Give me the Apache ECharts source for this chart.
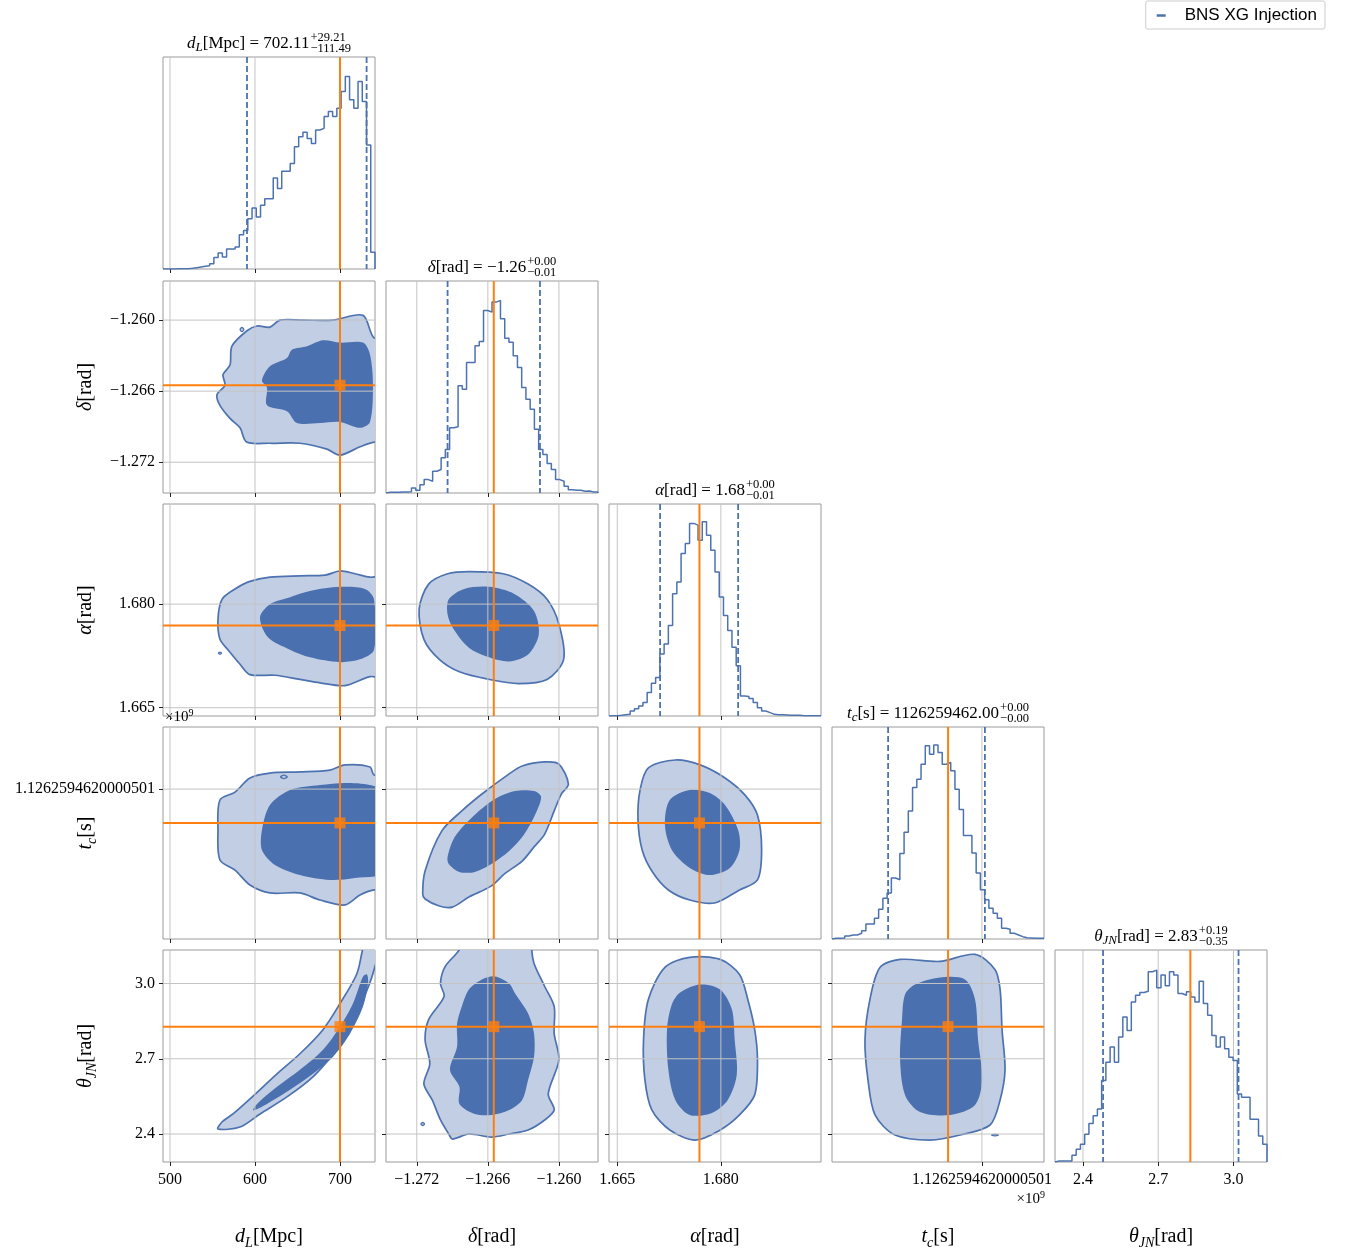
<!DOCTYPE html>
<html><head><meta charset="utf-8">
<script src="https://cdn.jsdelivr.net/npm/echarts@6/dist/echarts.min.js"></script>
<style>html,body{margin:0;padding:0;background:#fff}#c{width:1348px;height:1255px}</style>
</head><body><div id="c"></div>
<script>
// ---------------- DATA ----------------
const params = ['dL', 'delta', 'alpha', 'tc', 'theta'];
// axis ranges (tc in microseconds relative to 1126259462 s)
const rangeDL = [491.8, 741.2];
const rangeDelta = [-1.2746, -1.2567];
const rangeAlpha = [1.6638, 1.6945];
const rangeTc = [-20, 79];
const rangeTheta = [2.2885, 3.1335];

const ticksDL = [500, 600, 700];
const ticksDelta = [-1.272, -1.266, -1.260];
const ticksAlpha = [1.665, 1.680];
const ticksTc = [50];
const ticksTheta = [2.4, 2.7, 3.0];

const tickLabelsDL = ['500', '600', '700'];
const tickLabelsDelta = ['\u22121.272', '\u22121.266', '\u22121.260'];
const tickLabelsAlpha = ['1.665', '1.680'];
const tickLabelsTc = ['1.1262594620000501'];
const tickLabelsTheta = ['2.4', '2.7', '3.0'];

const injection = { dL: 700, delta: -1.2655, alpha: 1.6769, tc: 34.2, theta: 2.828 };
const quantDL = [590.62, 731.32];
const quantDelta = [-1.2694, -1.2616];
const quantAlpha = [1.6712, 1.6825];
const quantTc = [6.2, 51.4];
const quantTheta = [2.48, 3.02];

// histogram bin heights (50 bins spanning each axis range)
const histDL = [0,0,0,1,1,1,2,4,6,8,10,16,34,48,36,60,60,66,102,115,150,182,155,190,210,210,272,240,292,292,315,365,395,408,390,375,415,420,455,470,455,480,530,575,505,480,560,500,370,50];
const histDelta = [2,2,2,3,3,4,15,8,25,40,35,65,70,105,130,195,198,320,310,390,390,440,452,545,540,570,575,520,462,450,410,375,315,280,250,190,130,115,88,70,40,35,20,10,8,8,5,6,3,3];
const histAlpha = [1,1,2,4,5,15,22,30,40,70,98,115,185,215,270,365,400,485,515,575,570,525,580,540,495,430,355,300,255,205,150,60,58,52,40,25,15,10,5,4,4,3,2,2,2,1,1,1,1,1];
const histTc = [2,2,3,9,12,12,17,25,45,45,62,89,122,137,182,177,255,319,382,452,477,522,577,552,579,557,522,527,502,447,387,309,309,257,197,147,117,92,77,62,32,29,17,12,7,4,3,2,2,2];
const histTheta = [3,3,3,3,20,38,53,83,115,138,158,243,298,343,298,373,433,393,478,498,506,510,568,573,520,558,526,568,558,503,498,508,493,478,540,473,438,378,343,373,338,313,303,203,193,193,128,128,78,53];
const histMax = 633;

// contour polygons (outer = 2-sigma, inner = 1-sigma), data units
const cDLDeltaOuter = [[555.3,-1.2663],[558.8,-1.2672],[570.6,-1.2683],[582.4,-1.2691],[590.2,-1.2703],[617.6,-1.2704],[652.9,-1.2704],[684.7,-1.2709],[700,-1.2714],[723.5,-1.2707],[740,-1.2703],[760,-1.2703],[760,-1.2615],[740,-1.2615],[727,-1.2596],[691.8,-1.2600],[656.5,-1.2600],[629.4,-1.2600],[617.6,-1.2606],[602.4,-1.2605],[590.6,-1.2609],[572.9,-1.2622],[570.6,-1.2638],[562.4,-1.2646],[564.7,-1.2655]];
const cDLDeltaInner = [[608.2,-1.2651],[617.6,-1.2639],[637.6,-1.2632],[643.5,-1.2625],[661.2,-1.2622],[680,-1.2617],[700,-1.2619],[727,-1.2619],[735.3,-1.2629],[738.8,-1.2655],[735.3,-1.2686],[723.5,-1.2691],[700,-1.2686],[676.5,-1.2687],[649.4,-1.2687],[637.6,-1.2677],[614.1,-1.2672],[614.1,-1.2657]];
const cDLAlphaOuter = [[556.5,1.6778],[561.2,1.6807],[576.5,1.6822],[594.1,1.6833],[617.6,1.6839],[652.9,1.6841],[682.4,1.6842],[700,1.6848],[717.6,1.6844],[735.3,1.6839],[760,1.6839],[760,1.6695],[735.3,1.6695],[705.9,1.6682],[676.5,1.6686],[652.9,1.6691],[623.5,1.6697],[594.1,1.6698],[582.4,1.6713],[568.2,1.6734],[558.8,1.6749]];
const cDLAlphaInner = [[605.9,1.6781],[617.6,1.6800],[641.2,1.6810],[664.7,1.6819],[700,1.6825],[729.4,1.6822],[740,1.6807],[740,1.6734],[723.5,1.6720],[700,1.6716],[664.7,1.6723],[641.2,1.6734],[615.3,1.6752]];
const cDeltaAlphaOuter = [[-1.2718,1.6793],[-1.2710,1.6829],[-1.2694,1.6844],[-1.2676,1.6847],[-1.2647,1.6844],[-1.2626,1.6829],[-1.2610,1.6807],[-1.2600,1.6771],[-1.2596,1.6720],[-1.2610,1.6691],[-1.2634,1.6685],[-1.2659,1.6691],[-1.2684,1.6702],[-1.2701,1.6720],[-1.2714,1.6749]];
const cDeltaAlphaInner = [[-1.2694,1.6785],[-1.2693,1.6807],[-1.2680,1.6822],[-1.2659,1.6825],[-1.2638,1.6815],[-1.2621,1.6790],[-1.2617,1.6756],[-1.2626,1.6727],[-1.2642,1.6717],[-1.2659,1.6723],[-1.2676,1.6737],[-1.2689,1.6764]];
const cDLTcOuter = [[558.8,44.9],[576.5,48.6],[594.1,55.2],[617.6,57.5],[652.9,58.0],[688.2,58.9],[705.9,61.3],[735.3,60.3],[740,56.6],[760,56.6],[760,2.9],[740,2.9],[723.5,0.5],[705.9,-4.1],[676.5,-1.8],[652.9,1.5],[617.6,1.5],[594.1,5.2],[576.5,12.2],[558.8,16.9],[556.5,30.9]];
const cDLTcInner = [[608.2,30.9],[617.6,42.6],[641.2,49.6],[676.5,51.9],[705.9,52.9],[735.3,51.9],[760,47.2],[760,12.2],[717.6,8.5],[688.2,7.6],[652.9,9.9],[623.5,14.6],[608.2,21.6]];
const cDeltaTcOuter = [[-1.2715,1.0],[-1.2713,11.8],[-1.2699,30.4],[-1.2682,39.8],[-1.2665,47.7],[-1.2642,57.1],[-1.2631,60.8],[-1.2612,62.7],[-1.2600,61.7],[-1.2592,52.4],[-1.2598,47.7],[-1.2604,39.8],[-1.2612,29.0],[-1.2621,23.0],[-1.2631,16.4],[-1.2646,10.4],[-1.2657,4.8],[-1.2676,-0.4],[-1.2690,-5.1],[-1.2701,-4.6],[-1.2713,-1.3]];
const cDeltaTcInner = [[-1.2693,15.0],[-1.2694,18.3],[-1.2688,27.6],[-1.2673,37.0],[-1.2654,45.4],[-1.2637,49.1],[-1.2621,49.1],[-1.2615,46.3],[-1.2621,37.0],[-1.2631,27.6],[-1.2642,21.1],[-1.2657,15.0],[-1.2671,11.3],[-1.2684,11.3]];
const cAlphaTcOuter = [[1.6695,59.9],[1.6734,63.6],[1.6770,61.3],[1.6806,55.2],[1.6835,47.2],[1.6853,37.9],[1.6859,21.6],[1.6853,7.6],[1.6827,2.9],[1.6791,-3.2],[1.6755,-1.8],[1.6724,2.9],[1.6701,11.3],[1.6686,21.6],[1.6680,35.6],[1.6683,49.6]];
const cAlphaTcInner = [[1.6726,44.9],[1.6755,49.6],[1.6784,48.2],[1.6806,42.6],[1.6825,30.9],[1.6827,21.6],[1.6813,13.2],[1.6784,9.9],[1.6755,13.2],[1.6729,21.6],[1.6719,33.2]];
const cDLThetaOuter = [[556.5,2.420],[582.4,2.428],[605.9,2.480],[637.6,2.548],[668.2,2.628],[691.8,2.720],[711.8,2.828],[727.1,2.936],[738.8,3.040],[747,3.176],[731,3.176],[720,3.040],[700,2.920],[680,2.816],[652.9,2.720],[625.9,2.640],[594.1,2.540],[574.1,2.480],[561.2,2.448]];
const cDLThetaInner = [[597.6,2.496],[602.4,2.520],[625.9,2.588],[652.9,2.656],[680,2.736],[700,2.828],[715.3,2.920],[727.1,3.028],[731.8,3.036],[733,3.000],[727.1,2.908],[711.8,2.800],[691.8,2.708],[668.2,2.640],[641.2,2.576],[614.1,2.520],[600,2.496]];
const cDeltaThetaOuter = [[-1.2684,3.176],[-1.2684,3.136],[-1.2696,3.068],[-1.2700,3.000],[-1.2697,2.948],[-1.2710,2.856],[-1.2713,2.776],[-1.2709,2.680],[-1.2714,2.600],[-1.2707,2.536],[-1.2700,2.456],[-1.2693,2.400],[-1.2690,2.380],[-1.2676,2.400],[-1.2657,2.388],[-1.2642,2.400],[-1.2626,2.416],[-1.2612,2.456],[-1.2604,2.496],[-1.2609,2.560],[-1.2600,2.696],[-1.2604,2.800],[-1.2604,2.908],[-1.2612,2.988],[-1.2621,3.080],[-1.2623,3.136],[-1.2623,3.176]];
const cDeltaThetaInner = [[-1.2665,3.016],[-1.2676,2.976],[-1.2682,2.908],[-1.2686,2.840],[-1.2686,2.748],[-1.2692,2.656],[-1.2684,2.588],[-1.2684,2.520],[-1.2671,2.480],[-1.2657,2.476],[-1.2642,2.496],[-1.2631,2.536],[-1.2626,2.616],[-1.2621,2.708],[-1.2621,2.800],[-1.2626,2.880],[-1.2637,2.960],[-1.2642,3.000],[-1.2654,3.028]];
const cAlphaThetaOuter = [[1.6719,3.064],[1.6755,3.104],[1.6799,3.096],[1.6827,3.036],[1.6839,2.936],[1.6849,2.816],[1.6853,2.696],[1.6849,2.556],[1.6827,2.476],[1.6799,2.416],[1.6763,2.376],[1.6726,2.416],[1.6700,2.496],[1.6690,2.616],[1.6688,2.776],[1.6695,2.936]];
const cAlphaThetaInner = [[1.6741,2.964],[1.6770,2.996],[1.6799,2.976],[1.6816,2.896],[1.6820,2.776],[1.6823,2.636],[1.6810,2.536],[1.6787,2.484],[1.6755,2.476],[1.6734,2.536],[1.6724,2.656],[1.6722,2.816],[1.6729,2.916]];
const cTcThetaOuter = [[2.4,3.064],[11.8,3.096],[30.4,3.088],[46.8,3.116],[56.1,3.056],[58.5,2.976],[59.4,2.816],[60.8,2.656],[58.5,2.536],[53.8,2.436],[39.8,2.396],[25.8,2.376],[9.4,2.396],[0.1,2.476],[-3.2,2.616],[-4.6,2.776],[-2.3,2.936]];
const cTcThetaInner = [[18.8,2.996],[30.4,3.024],[42.1,3.016],[46.8,2.936],[48.2,2.776],[50.1,2.616],[46.8,2.516],[35.1,2.476],[21.1,2.488],[14.1,2.556],[11.8,2.696],[12.7,2.856],[14.1,2.956]];
// small isolated contour islands
const islandDLDelta = [[582.5,-1.2608],[584.7,-1.26062],[586.9,-1.2608],[584.7,-1.26098]];
const islandDLAlpha = [[557,1.6729],[558.8,1.67305],[560.6,1.6729],[558.8,1.67275]];
const islandDLTc = [[630,55.7],[634,56.5],[638,55.7],[634,54.9]];
const islandDeltaTheta = [[-1.27165,2.44],[-1.2715,2.446],[-1.27135,2.44],[-1.2715,2.434]];
const islandTcTheta = [[54.5,2.396],[56.1,2.399],[57.7,2.396],[56.1,2.393]];

// ---------------- LOOKUPS ----------------
const R = { dL: rangeDL, delta: rangeDelta, alpha: rangeAlpha, tc: rangeTc, theta: rangeTheta };
const TK = { dL: ticksDL, delta: ticksDelta, alpha: ticksAlpha, tc: ticksTc, theta: ticksTheta };
const TL = { dL: tickLabelsDL, delta: tickLabelsDelta, alpha: tickLabelsAlpha, tc: tickLabelsTc, theta: tickLabelsTheta };
const Q = { dL: quantDL, delta: quantDelta, alpha: quantAlpha, tc: quantTc, theta: quantTheta };
const H = { dL: histDL, delta: histDelta, alpha: histAlpha, tc: histTc, theta: histTheta };
const C = {
  '1_0': [cDLDeltaOuter, cDLDeltaInner, [islandDLDelta]],
  '2_0': [cDLAlphaOuter, cDLAlphaInner, [islandDLAlpha]],
  '2_1': [cDeltaAlphaOuter, cDeltaAlphaInner, []],
  '3_0': [cDLTcOuter, cDLTcInner, [islandDLTc]],
  '3_1': [cDeltaTcOuter, cDeltaTcInner, []],
  '3_2': [cAlphaTcOuter, cAlphaTcInner, []],
  '4_0': [cDLThetaOuter, cDLThetaInner, []],
  '4_1': [cDeltaThetaOuter, cDeltaThetaInner, [islandDeltaTheta]],
  '4_2': [cAlphaThetaOuter, cAlphaThetaInner, []],
  '4_3': [cTcThetaOuter, cTcThetaInner, [islandTcTheta]]
};
const names = {
  dL: '{i|d}{s|L}[Mpc]', delta: '{i|\u03b4}[rad]', alpha: '{i|\u03b1}[rad]',
  tc: '{i|t}{s|c}[s]', theta: '{i|\u03b8}{s|JN}[rad]'
};
const titleParts = [
  { sym: 'd', sub: 'L', rest: '[Mpc] = 702.11', plus: '+29.21', minus: '\u2212111.49' },
  { sym: '\u03b4', sub: '', rest: '[rad] = \u22121.26', plus: '+0.00', minus: '\u22120.01' },
  { sym: '\u03b1', sub: '', rest: '[rad] = 1.68', plus: '+0.00', minus: '\u22120.01' },
  { sym: 't', sub: 'c', rest: '[s] = 1126259462.00', plus: '+0.00', minus: '\u22120.00' },
  { sym: '\u03b8', sub: 'JN', rest: '[rad] = 2.83', plus: '+0.19', minus: '\u22120.35' }
];

// ---------------- LAYOUT / STYLE ----------------
const L = [163, 386, 609, 832, 1055];
const T = [57, 281, 504, 727, 950];
const S = 212;
const SERIF = '"Liberation Serif", "DejaVu Serif", serif';
const BLUE = '#4c72b0', LIGHT = '#c2cee4', DARK = '#4a70b0', ORANGE = '#ff7f0e', GRIDC = '#c4c4c4';

function fmt(p) {
  return v => { let bi = 0, bd = Infinity; TK[p].forEach((t, i) => { const d = Math.abs(t - v); if (d < bd) { bd = d; bi = i; } }); return TL[p][bi]; };
}
const nameRich = {
  i: { fontFamily: SERIF, fontStyle: 'italic', fontSize: 20, lineHeight: 26, color: '#000' },
  s: { fontFamily: SERIF, fontStyle: 'italic', fontSize: 14, lineHeight: 13, verticalAlign: 'bottom', color: '#000' }
};

const grids = [], xAxes = [], yAxes = [], series = [];
function axis(p, gi, isX, showLabel, withName) {
  const a = {
    gridIndex: gi, type: 'value', min: R[p][0], max: R[p][1],
    axisLine: { show: false, onZero: false }, splitLine: { show: false },
    axisTick: { show: true, inside: false, length: 4, customValues: TK[p], lineStyle: { color: '#222', width: 1 } },
    axisLabel: { show: showLabel, customValues: TK[p], formatter: fmt(p), fontFamily: SERIF, fontSize: 16, color: '#000', margin: isX ? 10 : 8, hideOverlap: false }
  };
  if (withName) {
    a.name = names[p]; a.nameLocation = 'middle'; a.nameGap = isX ? 62 : 64;
    a.nameMoveOverlap = false;
    a.nameTextStyle = { fontFamily: SERIF, fontSize: 20, lineHeight: 26, color: '#000', rich: nameRich };
  }
  return a;
}
function lineSeries(gi, items, style, z, yRef, xRef) {
  return {
    type: 'custom', xAxisIndex: gi, yAxisIndex: gi, z, silent: true, animation: false,
    data: items,
    renderItem(params, api) {
      const cs = params.coordSys; const v = api.value(0), o = api.value(1);
      if (o === 0) { const x = api.coord([v, yRef])[0]; return { type: 'line', shape: { x1: x, y1: cs.y, x2: x, y2: cs.y + cs.height }, style }; }
      const y = api.coord([xRef, v])[1];
      return { type: 'line', shape: { x1: cs.x, y1: y, x2: cs.x + cs.width, y2: y }, style };
    }
  };
}
function contourSeries(gi, key) {
  const [outer, inner, islands] = C[key];
  const polys = [{ pts: outer, style: { fill: LIGHT, stroke: BLUE, lineWidth: 1.7 } },
                 { pts: inner, style: { fill: DARK } }];
  islands.forEach(p => polys.push({ pts: p, style: { fill: LIGHT, stroke: BLUE, lineWidth: 1.3 } }));
  return {
    type: 'custom', xAxisIndex: gi, yAxisIndex: gi, z: 2, clip: true, silent: true, animation: false,
    data: polys.map((p, i) => [i]),
    renderItem(params, api) {
      const p = polys[params.dataIndex];
      return { type: 'polygon', shape: { points: p.pts.map(q => api.coord(q)), smooth: 0.3 }, style: p.style };
    }
  };
}

let gi = 0;
for (let r = 0; r < 5; r++) {
  for (let c = 0; c <= r; c++) {
    const px = params[c], py = params[r];
    grids.push({ left: L[c], top: T[r], width: S, height: S, show: true, borderColor: '#9a9a9a', borderWidth: 1, backgroundColor: 'transparent', containLabel: false, outerBoundsMode: 'none' });
    xAxes.push(axis(px, gi, true, r === 4, r === 4));
    const gridStyle = { stroke: GRIDC, lineWidth: 1 };
    if (r === c) {
      yAxes.push({ gridIndex: gi, type: 'value', min: 0, max: histMax, show: false, splitLine: { show: false }, axisLine: { onZero: false } });
      series.push(lineSeries(gi, TK[px].map(v => [v, 0]), gridStyle, 3, 0, 0));
      const h = H[px], lo = R[px][0], hi = R[px][1], w = (hi - lo) / h.length;
      const d = [[lo, 0]]; h.forEach((v, i) => d.push([lo + i * w, v])); d.push([hi, h[h.length - 1]]); d.push([hi, 0]);
      series.push({ type: 'line', name: 'BNS XG Injection', xAxisIndex: gi, yAxisIndex: gi, data: d, step: 'end', showSymbol: false, symbol: 'none', color: BLUE, lineStyle: { color: BLUE, width: 1.5 }, z: 4, silent: true, animation: false });
      series.push(lineSeries(gi, Q[px].map(v => [v, 0]), { stroke: BLUE, lineWidth: 1.8, lineDash: [6, 3] }, 4, 0, 0));
      series.push(lineSeries(gi, [[injection[px], 0]], { stroke: ORANGE, lineWidth: 2 }, 5, 0, 0));
    } else {
      yAxes.push(axis(py, gi, false, c === 0, c === 0));
      series.push(contourSeries(gi, r + '_' + c));
      const gl = TK[px].map(v => [v, 0]).concat(TK[py].map(v => [v, 1]));
      series.push(lineSeries(gi, gl, gridStyle, 3, R[py][0], R[px][0]));
      series.push(lineSeries(gi, [[injection[px], 0], [injection[py], 1]], { stroke: ORANGE, lineWidth: 2 }, 5, R[py][0], R[px][0]));
      series.push({ type: 'scatter', xAxisIndex: gi, yAxisIndex: gi, data: [[injection[px], injection[py]]], symbol: 'rect', symbolSize: 11, itemStyle: { color: ORANGE }, z: 6, silent: true, animation: false });
    }
    gi++;
  }
}

// ---------------- TEXT (titles, offsets) ----------------
const ctx = document.createElement('canvas').getContext('2d');
function tw(t, size, italic) { ctx.font = (italic ? 'italic ' : '') + size + 'px ' + SERIF; return ctx.measureText(t).width; }
const TM = 17, TS = 12.5, TSUB = 13;
const graphics = [];
titleParts.forEach((tp, k) => {
  const cx = L[k] + S / 2, top = T[k];
  const wMain = tw(tp.sym, TM, true) + (tp.sub ? tw(tp.sub, TSUB, true) : 0) + tw(tp.rest, TM, false);
  const wScr = Math.max(tw(tp.plus, TS), tw(tp.minus, TS));
  const left = cx - (wMain + 1 + wScr) / 2;
  graphics.push({
    type: 'text', x: left, y: top - 13, silent: true,
    style: {
      text: '{i|' + tp.sym + '}' + (tp.sub ? '{s|' + tp.sub + '}' : '') + '{r|' + tp.rest + '}',
      align: 'left', verticalAlign: 'middle',
      rich: {
        i: { fontFamily: SERIF, fontStyle: 'italic', fontSize: TM, lineHeight: 20, fill: '#000' },
        s: { fontFamily: SERIF, fontStyle: 'italic', fontSize: TSUB, lineHeight: 10, verticalAlign: 'bottom', fill: '#000' },
        r: { fontFamily: SERIF, fontSize: TM, lineHeight: 20, fill: '#000' }
      }
    }
  });
  graphics.push({ type: 'text', x: left + wMain + 1, y: top - 19.5, silent: true, style: { text: tp.plus, font: TS + 'px ' + SERIF, fill: '#000', align: 'left', verticalAlign: 'middle' } });
  graphics.push({ type: 'text', x: left + wMain + 1, y: top - 8.5, silent: true, style: { text: tp.minus, font: TS + 'px ' + SERIF, fill: '#000', align: 'left', verticalAlign: 'middle' } });
});
const offRich = {
  m: { fontFamily: SERIF, fontSize: 15, lineHeight: 18, fill: '#000' },
  p: { fontFamily: SERIF, fontSize: 10, lineHeight: 9, verticalAlign: 'top', fill: '#000' }
};
graphics.push({ type: 'text', x: L[0] + 2, y: T[3] - 10, silent: true, style: { text: '{m|\u00d710}{p|9}', align: 'left', verticalAlign: 'middle', rich: offRich } });
graphics.push({ type: 'text', x: L[3] + S + 1, y: T[4] + S + 37, silent: true, style: { text: '{m|\u00d710}{p|9}', align: 'right', verticalAlign: 'middle', rich: offRich } });

const chart = echarts.init(document.getElementById('c'), null, { renderer: 'canvas' });
chart.setOption({
  animation: false,
  backgroundColor: '#fff',
  legend: {
    data: ['BNS XG Injection'], right: 23, top: 1, orient: 'horizontal', selectedMode: false,
    icon: 'rect', itemWidth: 9, itemHeight: 2.5, itemStyle: { color: BLUE },
    padding: [6, 8, 5, 11], borderColor: '#cccccc', borderWidth: 1, borderRadius: 2,
    textStyle: { fontFamily: '"Liberation Sans", Arial, sans-serif', fontSize: 17, color: '#000', padding: [0, 0, 0, 14] }
  },
  grid: grids, xAxis: xAxes, yAxis: yAxes, series, graphic: graphics
});
</script></body></html>
